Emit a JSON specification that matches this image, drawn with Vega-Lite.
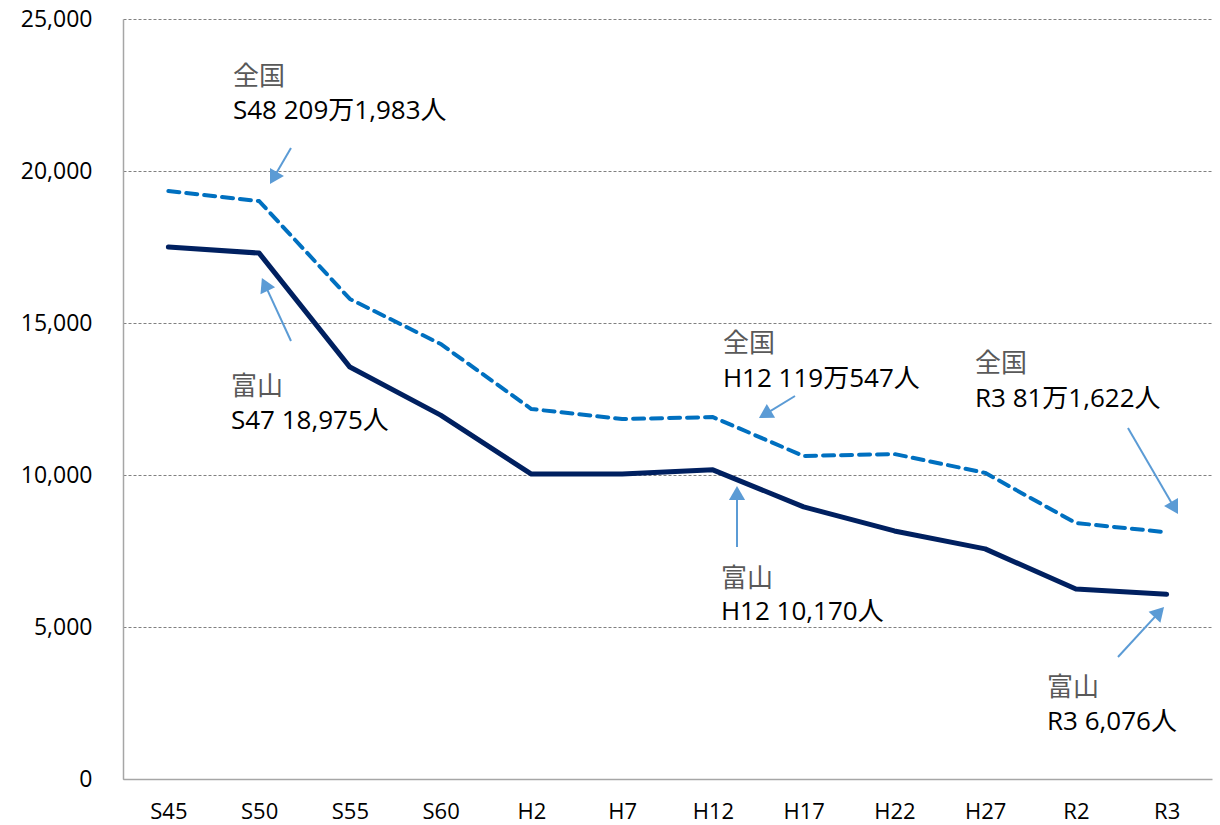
{
  "$schema": "https://vega.github.io/schema/vega-lite/v6.json",
  "width": 1089,
  "height": 760,
  "autosize": {"type": "none"},
  "padding": {"left": 123, "top": 19, "right": 8, "bottom": 46},
  "background": "white",
  "config": {
    "view": {"stroke": null},
    "font": "'Open Sans', 'Noto Sans CJK JP', sans-serif"
  },
  "datasets": {
    "series": [
      {"period": "S45", "idx": 0, "toyama": 17500, "national": 19340},
      {"period": "S50", "idx": 1, "toyama": 17300, "national": 19010},
      {"period": "S55", "idx": 2, "toyama": 13550, "national": 15790},
      {"period": "S60", "idx": 3, "toyama": 11970, "national": 14310},
      {"period": "H2", "idx": 4, "toyama": 10030, "national": 12170},
      {"period": "H7", "idx": 5, "toyama": 10030, "national": 11840},
      {"period": "H12", "idx": 6, "toyama": 10170, "national": 11905},
      {"period": "H17", "idx": 7, "toyama": 8950, "national": 10625},
      {"period": "H22", "idx": 8, "toyama": 8160, "national": 10690},
      {"period": "H27", "idx": 9, "toyama": 7570, "national": 10070},
      {"period": "R2", "idx": 10, "toyama": 6250, "national": 8420},
      {"period": "R3", "idx": 11, "toyama": 6076, "national": 8116}
    ],
    "arrows": [
      {"tx": 1.351, "ty": 20757, "hx": 1.158, "hy": 19770, "angle": 210},
      {"tx": 1.351, "ty": 14408, "hx": 1.063, "hy": 16270, "angle": 335},
      {"tx": 6.905, "ty": 12599, "hx": 6.574, "hy": 11994, "angle": 239},
      {"tx": 6.266, "ty": 7632, "hx": 6.266, "hy": 9408, "angle": 0},
      {"tx": 10.574, "ty": 11546, "hx": 11.087, "hy": 8914, "angle": 150},
      {"tx": 10.464, "ty": 4013, "hx": 10.919, "hy": 5487, "angle": 43}
    ],
    "labels": [
      {"idx": 0.712, "val": 22829, "text": "全国", "kind": "title"},
      {"idx": 0.712, "val": 21711, "text": "S48 209万1,983人", "kind": "value"},
      {"idx": 0.690, "val": 12632, "text": "富山", "kind": "title"},
      {"idx": 0.690, "val": 11513, "text": "S47 18,975人", "kind": "value"},
      {"idx": 6.111, "val": 14046, "text": "全国", "kind": "title"},
      {"idx": 6.111, "val": 12895, "text": "H12 119万547人", "kind": "value"},
      {"idx": 6.089, "val": 6316, "text": "富山", "kind": "title"},
      {"idx": 6.089, "val": 5230, "text": "H12 10,170人", "kind": "value"},
      {"idx": 8.888, "val": 13388, "text": "全国", "kind": "title"},
      {"idx": 8.888, "val": 12237, "text": "R3 81万1,622人", "kind": "value"},
      {"idx": 9.682, "val": 2730, "text": "富山", "kind": "title"},
      {"idx": 9.682, "val": 1612, "text": "R3 6,076人", "kind": "value"}
    ]
  },
  "layer": [
    {
      "data": {"name": "series"},
      "mark": {"type": "line", "color": "#0070C0", "strokeWidth": 4, "strokeDash": [11, 7], "strokeJoin": "round", "strokeCap": "round"},
      "encoding": {
        "x": {
          "field": "idx", "type": "quantitative",
          "scale": {"domain": [-0.5, 11.5], "nice": false, "zero": false},
          "axis": {
            "title": null, "grid": false, "ticks": false,
            "values": [0, 1, 2, 3, 4, 5, 6, 7, 8, 9, 10, 11],
            "labelExpr": "['S45','S50','S55','S60','H2','H7','H12','H17','H22','H27','R2','R3'][datum.value]",
            "labelFontSize": 22, "labelColor": "#000000", "labelPadding": 22, "labelBaseline": "top",
            "domainColor": "#A6A6A6", "domainWidth": 1.5, "labelFlush": false
          }
        },
        "y": {
          "field": "national", "type": "quantitative",
          "scale": {"domain": [0, 25000], "nice": false},
          "axis": {
            "title": null, "ticks": false,
            "values": [0, 5000, 10000, 15000, 20000, 25000],
            "format": ",d",
            "grid": true, "gridDash": [3, 2], "gridColor": "#808080", "gridWidth": 1,
            "labelFontSize": 23, "labelColor": "#000000", "labelPadding": 31,
            "domainColor": "#A6A6A6", "domainWidth": 1.5
          }
        }
      }
    },
    {
      "data": {"name": "series"},
      "mark": {"type": "line", "color": "#002060", "strokeWidth": 5, "strokeJoin": "round", "strokeCap": "round"},
      "encoding": {
        "x": {"field": "idx", "type": "quantitative"},
        "y": {"field": "toyama", "type": "quantitative"}
      }
    },
    {
      "data": {"name": "arrows"},
      "mark": {"type": "rule", "color": "#5B9BD5", "strokeWidth": 2},
      "encoding": {
        "x": {"field": "tx", "type": "quantitative"},
        "y": {"field": "ty", "type": "quantitative"},
        "x2": {"field": "hx"},
        "y2": {"field": "hy"}
      }
    },
    {
      "data": {"name": "arrows"},
      "mark": {"type": "point", "shape": "triangle-up", "filled": true, "color": "#5B9BD5", "opacity": 1, "size": 260},
      "encoding": {
        "x": {"field": "hx", "type": "quantitative"},
        "y": {"field": "hy", "type": "quantitative"},
        "angle": {"field": "angle", "type": "quantitative", "scale": null}
      }
    },
    {
      "data": {"name": "labels"},
      "mark": {"type": "text", "align": "left", "baseline": "alphabetic", "fontSize": 26},
      "encoding": {
        "x": {"field": "idx", "type": "quantitative"},
        "y": {"field": "val", "type": "quantitative"},
        "text": {"field": "text"},
        "color": {"field": "kind", "type": "nominal", "scale": {"domain": ["title", "value"], "range": ["#595959", "#000000"]}, "legend": null}
      }
    }
  ]
}
